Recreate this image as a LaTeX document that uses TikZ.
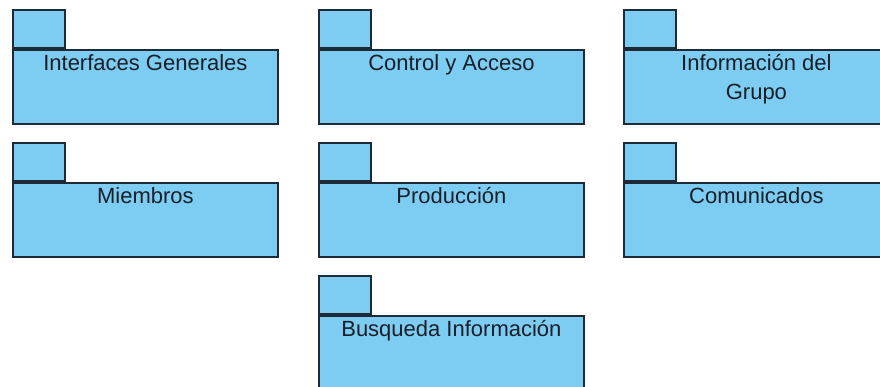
\documentclass[tikz,border=0pt]{standalone}
\usepackage{fontspec}
\setmainfont{Liberation Sans}
\usetikzlibrary{positioning}
\definecolor{pkgblue}{HTML}{7CCDF1}
\definecolor{pkgline}{HTML}{1E2A36}
\definecolor{pkgtext}{HTML}{1A1E28}
\tikzset{
  pkgbody/.style={draw=pkgline,fill=pkgblue,line width=1.8pt,minimum width=265pt,
    minimum height=74pt,anchor=north west,inner sep=0pt},
  pkgtab/.style={draw=pkgline,fill=pkgblue,line width=1.8pt,minimum width=52pt,
    minimum height=38pt,anchor=south west,inner sep=0pt},
  pkglabel/.style={anchor=north,align=center,inner sep=5pt,
    font=\fontsize{22}{29}\selectfont,text=pkgtext}
}

\begin{document}
\begin{tikzpicture}[x=1pt,y=-1pt]
  \useasboundingbox (0,0) rectangle (880,387);
  \clip (0,0) rectangle (880,387);
  % fila 1
  \node[pkgbody] (intBody) at (12,49) {};
  \node[pkgtab] (intTab) at (intBody.north west) {};
  \node[pkglabel] (intLabel) at (intBody.north) {Interfaces Generales};
  \node[pkgbody] (ctrlBody) at (318,49) {};
  \node[pkgtab] (ctrlTab) at (ctrlBody.north west) {};
  \node[pkglabel] (ctrlLabel) at (ctrlBody.north) {Control y Acceso};
  \node[pkgbody] (infoBody) at (623,49) {};
  \node[pkgtab] (infoTab) at (infoBody.north west) {};
  \node[pkglabel] (infoLabel) at (infoBody.north) {Información del\\Grupo};
  % fila 2
  \node[pkgbody] (miemBody) at (12,182) {};
  \node[pkgtab] (miemTab) at (miemBody.north west) {};
  \node[pkglabel] (miemLabel) at (miemBody.north) {Miembros};
  \node[pkgbody] (prodBody) at (318,182) {};
  \node[pkgtab] (prodTab) at (prodBody.north west) {};
  \node[pkglabel] (prodLabel) at (prodBody.north) {Producción};
  \node[pkgbody] (comBody) at (623,182) {};
  \node[pkgtab] (comTab) at (comBody.north west) {};
  \node[pkglabel] (comLabel) at (comBody.north) {Comunicados};
  % fila 3
  \node[pkgbody] (busqBody) at (318,315) {};
  \node[pkgtab] (busqTab) at (busqBody.north west) {};
  \node[pkglabel] (busqLabel) at (busqBody.north) {Busqueda Información};
\end{tikzpicture}
\end{document}
